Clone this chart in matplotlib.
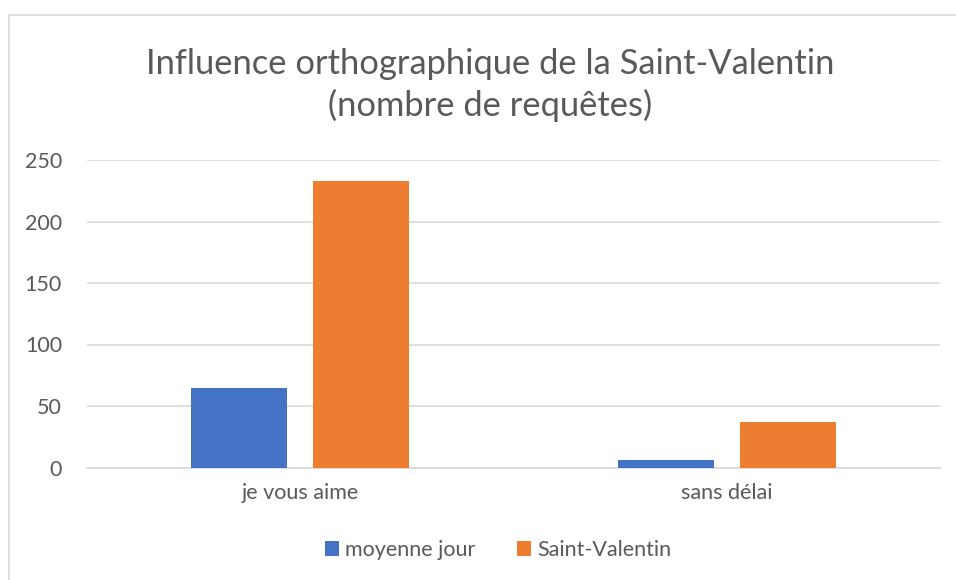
import matplotlib
matplotlib.use("Agg")
import matplotlib.pyplot as plt
import matplotlib.patches as mpatches
import numpy as np

plt.rcParams['font.family'] = ['Lato', 'DejaVu Sans']

categories = ["je vous aime", "sans délai"]
series_names = ["moyenne jour", "Saint-Valentin"]
moyenne_jour = [65, 6]
saint_valentin = [233, 37]
y_ticks = [0, 50, 100, 150, 200, 250]

blue = "#4472c4"
orange = "#ed7d31"
grey_text = "#595959"
grid_col = "#d9d9d9"

fig = plt.figure(figsize=(9.56, 5.8), dpi=100)

# outer chart frame (clipped at right/bottom like the source)
fig.patches.append(mpatches.Rectangle((9 / 956, -0.1), 1.2, 1 - 15 / 580 + 0.1,
                                      transform=fig.transFigure, fill=False,
                                      edgecolor="#d9d9d9", linewidth=1.2))

ax = fig.add_axes([87 / 956, 1 - 467.5 / 580, (940 - 87) / 956, (467.5 - 160) / 580])

x = np.arange(len(categories))
width = 0.225
offset = 0.1425
ax.bar(x - offset, moyenne_jour, width, color=blue, label=series_names[0], zorder=3)
ax.bar(x + offset, saint_valentin, width, color=orange, label=series_names[1], zorder=3)

ax.set_xlim(-0.5, 1.5)
ax.set_ylim(0, 250)
ax.set_yticks(y_ticks)
ax.set_xticks(x)
ax.set_xticklabels(categories)
ax.yaxis.grid(True, color=grid_col, linewidth=1.2, zorder=0)
ax.set_axisbelow(True)
for s in ["top", "right", "left"]:
    ax.spines[s].set_visible(False)
ax.spines["bottom"].set_color(grid_col)
ax.spines["bottom"].set_linewidth(1.2)
ax.tick_params(axis="both", length=0, labelsize=15.5, colors=grey_text)
ax.tick_params(axis="y", pad=18)
ax.tick_params(axis="x", pad=11)

fig.text(490 / 956, 1 - 85 / 580, "Influence orthographique de la Saint-Valentin\n(nombre de requêtes)",
         ha="center", va="center", fontsize=24.8, color=grey_text, linespacing=1.3)

fig.legend(loc="center", bbox_to_anchor=(498 / 956, 1 - 550 / 580), ncol=2, frameon=False,
           fontsize=15.5, labelcolor=grey_text, handlelength=0.65, handleheight=0.75,
           handletextpad=0.3, columnspacing=1.9)

fig.savefig("out.png", dpi=100)
